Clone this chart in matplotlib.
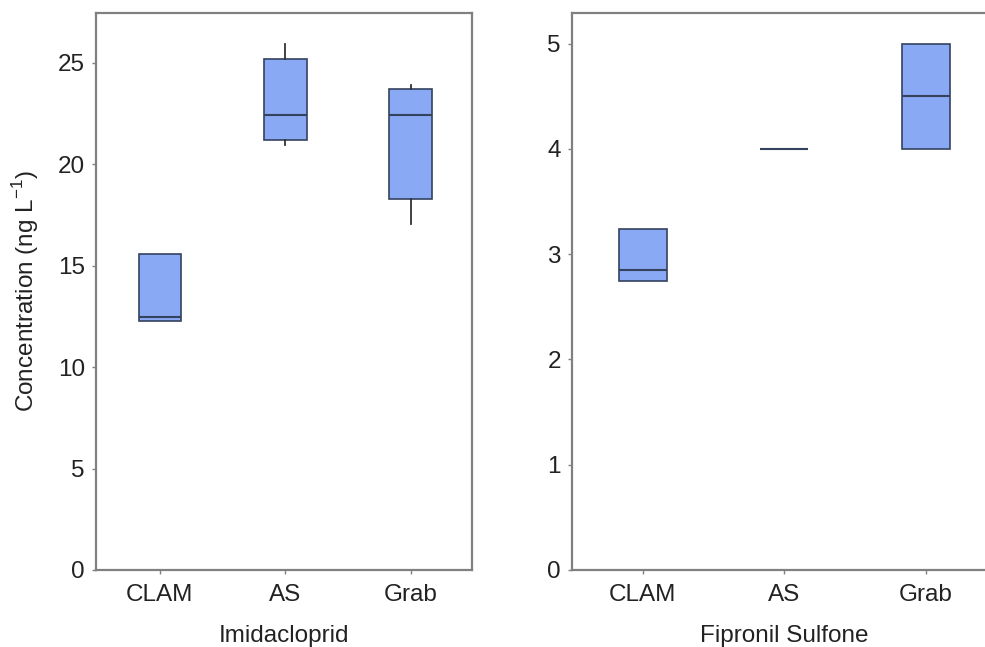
import matplotlib
matplotlib.use("Agg")
import matplotlib.pyplot as plt

plt.rcParams['font.family'] = ['Liberation Sans', 'DejaVu Sans']

categories = ["CLAM", "AS", "Grab"]

# Imidacloprid (ng/L): whislo, q1, median, q3, whishi
imi_whislo = [12.28, 20.94, 17.06]
imi_q1     = [12.28, 21.20, 18.28]
imi_med    = [12.45, 22.44, 22.44]
imi_q3     = [15.58, 25.20, 23.70]
imi_whishi = [15.58, 25.92, 23.90]

# Fipronil Sulfone (ng/L)
fip_whislo = [2.74, 4.00, 4.00]
fip_q1     = [2.74, 4.00, 4.00]
fip_med    = [2.85, 4.00, 4.50]
fip_q3     = [3.24, 4.00, 5.00]
fip_whishi = [3.24, 4.00, 5.00]

left_yticks = [0, 5, 10, 15, 20, 25]
right_yticks = [0, 1, 2, 3, 4, 5]

fill = "#8aa9f5"
edge = "#34425e"
spine_c = "#808080"

fig = plt.figure(figsize=(9.85, 6.47), dpi=100)
ax1 = fig.add_axes([96/985, 1-570/647, (472-96)/985, (570-13)/647])
ax2 = fig.add_axes([572/985, 1-570/647, 424.5/985, (570-13)/647])


def stats(lo, q1, med, q3, hi):
    return [dict(whislo=a, q1=b, med=c, q3=d, whishi=e, fliers=[])
            for a, b, c, d, e in zip(lo, q1, med, q3, hi)]


def draw(ax, st, ylim, yticks, xlabel, xlim):
    ax.bxp(st, positions=[1, 2, 3], widths=0.34, patch_artist=True,
           showcaps=False, showfliers=False,
           boxprops=dict(facecolor=fill, edgecolor=edge, linewidth=1.2),
           medianprops=dict(color=edge, linewidth=1.5),
           whiskerprops=dict(color="#333333", linewidth=1.3))
    ax.set_xlim(*xlim)
    ax.set_ylim(*ylim)
    ax.set_yticks(yticks)
    ax.set_xticks([1, 2, 3])
    ax.set_xticklabels(categories)
    ax.set_xlabel(xlabel, fontsize=17.5, color="#222222", labelpad=14)
    ax.tick_params(axis='both', labelsize=17.5, colors="#222222",
                   length=3, width=1, direction='out')
    ax.tick_params(axis='x', pad=7)
    ax.tick_params(axis='y', pad=5)
    ax.tick_params(axis='both', color=spine_c)
    for s in ax.spines.values():
        s.set_color(spine_c)
        s.set_linewidth(1.6)


draw(ax1, stats(imi_whislo, imi_q1, imi_med, imi_q3, imi_whishi),
     (0, 27.46), left_yticks, "Imidacloprid", (0.49, 3.49))
draw(ax2, stats(fip_whislo, fip_q1, fip_med, fip_q3, fip_whishi),
     (0, 5.29), right_yticks, "Fipronil Sulfone", (0.5, 3.5))

ax1.set_ylabel("Concentration (ng L$^{\\mathregular{-1}}$)", fontsize=17.5,
               color="#222222", labelpad=12)

fig.savefig("out.png", dpi=100)
